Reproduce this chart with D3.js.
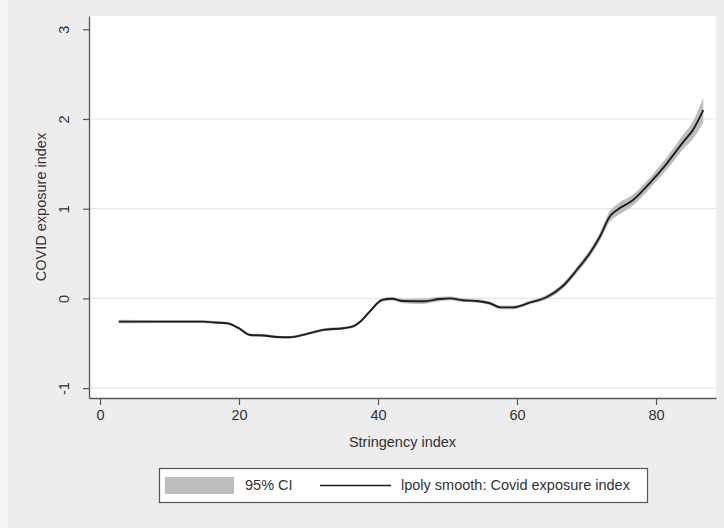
<!DOCTYPE html>
<html>
<head>
<meta charset="utf-8">
<script src="https://cdn.jsdelivr.net/npm/d3@7"></script>
<style>
  html, body { margin: 0; padding: 0; background: #f4f4f4; }
  svg { display: block; font-family: "Liberation Sans", Arial, sans-serif; }
</style>
</head>
<body>
<svg id="chart" width="724" height="528"></svg>
<script>
// Stringency index values at which the local-polynomial smooth is evaluated
const stringency = [2.7, 8.6, 14.8, 16.5, 18.3, 19.9, 21.6, 23.5, 25.5, 27.3, 29.2, 30.6, 32.1, 35.0, 36.4, 37.4, 38.8, 40.6, 42.0, 43.6, 46.5, 48.9, 50.4, 52.2, 54.2, 56.1, 57.6, 59.4, 61.9, 64.3, 66.6, 68.6, 70.5, 71.9, 73.4, 74.4, 76.7, 79.1, 81.6, 83.9, 85.3, 86.8];
// lpoly smooth of the COVID exposure index
const smooth = [-0.259, -0.259, -0.259, -0.268, -0.277, -0.329, -0.407, -0.413, -0.430, -0.433, -0.407, -0.379, -0.351, -0.332, -0.312, -0.262, -0.147, -0.017, -0.003, -0.029, -0.032, -0.007, 0.000, -0.021, -0.028, -0.054, -0.100, -0.100, -0.045, 0.016, 0.138, 0.317, 0.507, 0.685, 0.919, 0.986, 1.097, 1.286, 1.509, 1.743, 1.876, 2.098];
// 95% confidence band
const ciLow = [-0.279, -0.274, -0.274, -0.283, -0.292, -0.344, -0.422, -0.428, -0.445, -0.448, -0.422, -0.394, -0.366, -0.347, -0.327, -0.277, -0.167, -0.037, -0.023, -0.054, -0.062, -0.032, -0.020, -0.041, -0.048, -0.074, -0.120, -0.120, -0.065, -0.009, 0.108, 0.282, 0.467, 0.640, 0.859, 0.921, 1.037, 1.226, 1.439, 1.663, 1.776, 1.958];
const ciHigh = [-0.239, -0.244, -0.244, -0.253, -0.262, -0.314, -0.392, -0.398, -0.415, -0.418, -0.392, -0.364, -0.336, -0.317, -0.297, -0.247, -0.127, 0.003, 0.017, -0.004, -0.002, 0.018, 0.020, -0.001, -0.008, -0.034, -0.080, -0.080, -0.025, 0.041, 0.168, 0.352, 0.547, 0.730, 0.979, 1.051, 1.157, 1.346, 1.579, 1.823, 1.976, 2.238];

const xTicks = [0, 20, 40, 60, 80];
const yTicks = [-1, 0, 1, 2, 3];
const yGrid = [-1, 0, 1, 2];

const xTitle = "Stringency index";
const yTitle = "COVID exposure index";
const legendLabels = ["95% CI", "lpoly smooth: Covid exposure index"];

const rows = stringency.map((s, i) => ({ x: s, y: smooth[i], lo: ciLow[i], hi: ciHigh[i] }));

const svg = d3.select("#chart");
const W = 724, H = 528;
const plot = { left: 89, right: 716, top: 16, bottom: 398 };

const textColor = "#333333";
const axisColor = "#555555";
const fontSize = "14.5px";
const intLabel = d => String(d); // plain integers with an ASCII hyphen for negatives

// graph region background
svg.append("rect").attr("x", 8).attr("y", 0).attr("width", W - 8).attr("height", H)
  .attr("fill", "#ededed");

const x = d3.scaleLinear().domain([-1.58, 88.63]).range([plot.left, plot.right]);
const y = d3.scaleLinear().domain([-1.11, 3.148]).range([plot.bottom, plot.top]);

// plot region
svg.append("rect")
  .attr("x", plot.left).attr("y", plot.top)
  .attr("width", plot.right - plot.left).attr("height", plot.bottom - plot.top)
  .attr("fill", "#ffffff");

// horizontal grid lines
svg.append("g").selectAll("line").data(yGrid).join("line")
  .attr("x1", plot.left).attr("x2", plot.right)
  .attr("y1", d => y(d)).attr("y2", d => y(d))
  .attr("stroke", "#e6e6e6").attr("stroke-width", 1.2);

// confidence band
svg.append("path").datum(rows)
  .attr("fill", "#bdbdbd")
  .attr("d", d3.area().x(d => x(d.x)).y0(d => y(d.lo)).y1(d => y(d.hi)).curve(d3.curveMonotoneX));

// smoothed line
svg.append("path").datum(rows)
  .attr("fill", "none").attr("stroke", "#1e1e1e").attr("stroke-width", 1.9)
  .attr("stroke-linejoin", "round")
  .attr("d", d3.line().x(d => x(d.x)).y(d => y(d.y)).curve(d3.curveMonotoneX));

// x axis
const gx = svg.append("g").attr("transform", `translate(0,${plot.bottom})`)
  .call(d3.axisBottom(x).tickValues(xTicks).tickFormat(intLabel).tickSize(7).tickPadding(5).tickSizeOuter(0));
gx.select(".domain").attr("stroke", axisColor).attr("stroke-width", 1.3);
gx.selectAll(".tick line").attr("stroke", axisColor).attr("stroke-width", 1.2);
gx.selectAll(".tick text").attr("fill", textColor).style("font-size", fontSize)
  .style("font-family", "'Liberation Sans', Arial, sans-serif");

// y axis with rotated labels
const gy = svg.append("g").attr("transform", `translate(${plot.left},0)`)
  .call(d3.axisLeft(y).tickValues(yTicks).tickFormat(intLabel).tickSize(6).tickSizeOuter(0));
gy.select(".domain").attr("stroke", axisColor).attr("stroke-width", 1.3);
gy.selectAll(".tick line").attr("stroke", axisColor).attr("stroke-width", 1.2);
gy.selectAll(".tick text")
  .attr("x", 0).attr("dy", 0)
  .attr("transform", "translate(-24,0) rotate(-90)")
  .attr("text-anchor", "middle").attr("dominant-baseline", "middle")
  .attr("fill", textColor).style("font-size", fontSize)
  .style("font-family", "'Liberation Sans', Arial, sans-serif");

// axis titles
svg.append("text")
  .attr("x", (plot.left + plot.right) / 2).attr("y", 447)
  .attr("text-anchor", "middle").attr("fill", textColor).style("font-size", fontSize)
  .text(xTitle);
svg.append("text")
  .attr("transform", `translate(46,${(plot.top + plot.bottom) / 2}) rotate(-90)`)
  .attr("text-anchor", "middle").attr("fill", textColor).style("font-size", fontSize)
  .text(yTitle);

// legend
const lg = svg.append("g");
lg.append("rect").attr("x", 159.5).attr("y", 468.5).attr("width", 488).attr("height", 34)
  .attr("fill", "#ffffff").attr("stroke", "#555555").attr("stroke-width", 1.2);
lg.append("rect").attr("x", 165).attr("y", 477).attr("width", 69).attr("height", 17)
  .attr("fill", "#bdbdbd");
lg.append("text").attr("x", 245).attr("y", 490).attr("fill", textColor).style("font-size", fontSize)
  .text(legendLabels[0]);
lg.append("line").attr("x1", 320).attr("x2", 391).attr("y1", 485.5).attr("y2", 485.5)
  .attr("stroke", "#1e1e1e").attr("stroke-width", 1.5);
lg.append("text").attr("x", 401).attr("y", 490).attr("fill", textColor).style("font-size", fontSize)
  .text(legendLabels[1]);
</script>
</body>
</html>
